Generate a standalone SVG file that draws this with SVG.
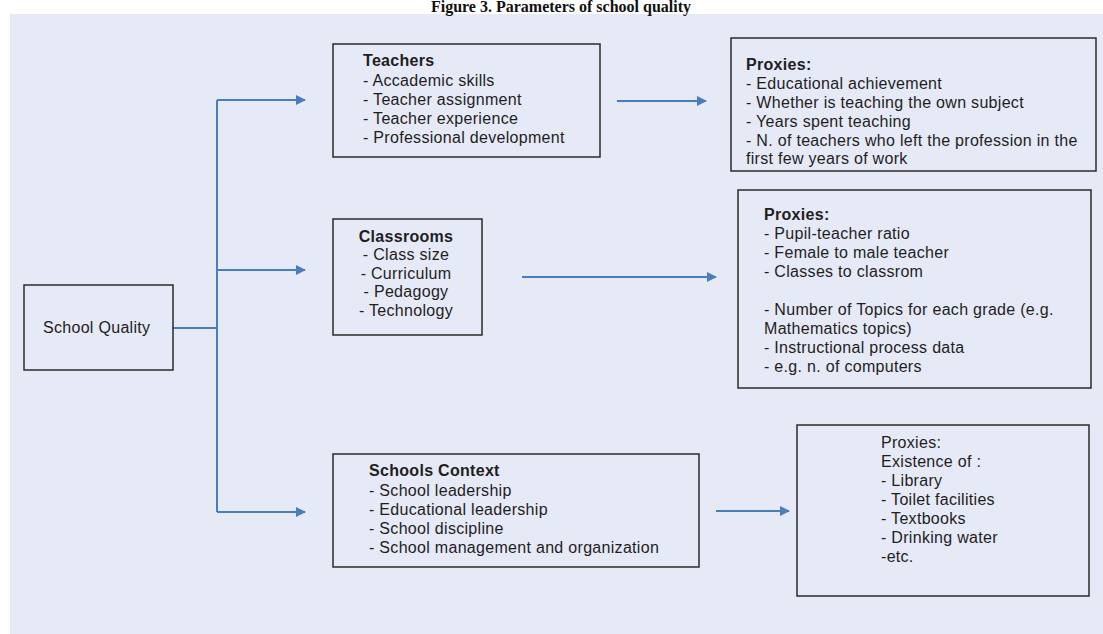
<svg xmlns="http://www.w3.org/2000/svg" width="1103" height="634" viewBox="0 0 1103 634">
<defs>
<style>
.box{fill:#e6e9f6;stroke:#2b2b2b;stroke-width:1.5}
.t{font-family:"Liberation Sans",Arial,sans-serif;font-size:16px;fill:#1e1e1e;letter-spacing:0.3px}
.b{font-weight:bold}
.c{text-anchor:middle}
.ln{fill:none;stroke:#4a7ebb;stroke-width:2}
</style>
<marker id="ah" markerWidth="10" markerHeight="10" refX="9" refY="5" orient="auto" markerUnits="userSpaceOnUse">
<path d="M0,0 L10,5 L0,10 Z" fill="#4a7ebb"/>
</marker>
</defs>
<rect x="0" y="0" width="1103" height="634" fill="#ffffff"/>
<rect x="10" y="14" width="1093" height="620" fill="#e6e9f6"/>
<text x="561" y="12" text-anchor="middle" font-family="'Liberation Serif',serif" font-weight="bold" font-size="16" fill="#111">Figure 3. Parameters of school quality</text>

<g id="connectors">
<path class="ln" d="M173,328 H217"/>
<path class="ln" d="M217,100 V512"/>
<path class="ln" d="M217,100 H305" marker-end="url(#ah)"/>
<path class="ln" d="M217,270 H305" marker-end="url(#ah)"/>
<path class="ln" d="M217,512 H305" marker-end="url(#ah)"/>
<path class="ln" d="M617,101 H706" marker-end="url(#ah)"/>
<path class="ln" d="M522,277 H716" marker-end="url(#ah)"/>
<path class="ln" d="M716,511 H789" marker-end="url(#ah)"/>
</g>

<g id="school-quality">
<rect class="box" x="24" y="285" width="149" height="85"/>
<text class="t" x="43" y="333">School Quality</text>
</g>

<g id="teachers">
<rect class="box" x="333" y="44" width="267" height="113"/>
<text class="t b" x="363" y="66">Teachers</text>
<text class="t" x="363" y="86">- Accademic skills</text>
<text class="t" x="363" y="105">- Teacher assignment</text>
<text class="t" x="363" y="124">- Teacher experience</text>
<text class="t" x="363" y="143">- Professional development</text>
</g>

<g id="teachers-proxies">
<rect class="box" x="731" y="38" width="365" height="133"/>
<text class="t b" x="746" y="70">Proxies:</text>
<text class="t" x="746" y="89">- Educational achievement</text>
<text class="t" x="746" y="108">- Whether is teaching the own subject</text>
<text class="t" x="746" y="127">- Years spent teaching</text>
<text class="t" x="746" y="146">- N. of teachers who left the profession in the</text>
<text class="t" x="746" y="164">first few years of work</text>
</g>

<g id="classrooms">
<rect class="box" x="333" y="219" width="149" height="116"/>
<text class="t b c" x="406" y="242">Classrooms</text>
<text class="t c" x="406" y="260">- Class size</text>
<text class="t c" x="406" y="279">- Curriculum</text>
<text class="t c" x="406" y="297">- Pedagogy</text>
<text class="t c" x="406" y="316">- Technology</text>
</g>

<g id="classrooms-proxies">
<rect class="box" x="738" y="190" width="353" height="198"/>
<text class="t b" x="764" y="220">Proxies:</text>
<text class="t" x="764" y="239">- Pupil-teacher ratio</text>
<text class="t" x="764" y="258">- Female to male teacher</text>
<text class="t" x="764" y="277">- Classes to classrom</text>
<text class="t" x="764" y="315">- Number of Topics for each grade (e.g.</text>
<text class="t" x="764" y="334">Mathematics topics)</text>
<text class="t" x="764" y="353">- Instructional process data</text>
<text class="t" x="764" y="372">- e.g. n. of computers</text>
</g>

<g id="schools-context">
<rect class="box" x="333" y="454" width="366" height="113"/>
<text class="t b" x="369" y="476">Schools Context</text>
<text class="t" x="369" y="496">- School leadership</text>
<text class="t" x="369" y="515">- Educational leadership</text>
<text class="t" x="369" y="534">- School discipline</text>
<text class="t" x="369" y="553">- School management and organization</text>
</g>

<g id="context-proxies">
<rect class="box" x="797" y="425" width="292" height="171"/>
<text class="t" x="881" y="448">Proxies:</text>
<text class="t" x="881" y="467">Existence of :</text>
<text class="t" x="881" y="486">- Library</text>
<text class="t" x="881" y="505">- Toilet facilities</text>
<text class="t" x="881" y="524">- Textbooks</text>
<text class="t" x="881" y="543">- Drinking water</text>
<text class="t" x="881" y="562">-etc.</text>
</g>
</svg>
